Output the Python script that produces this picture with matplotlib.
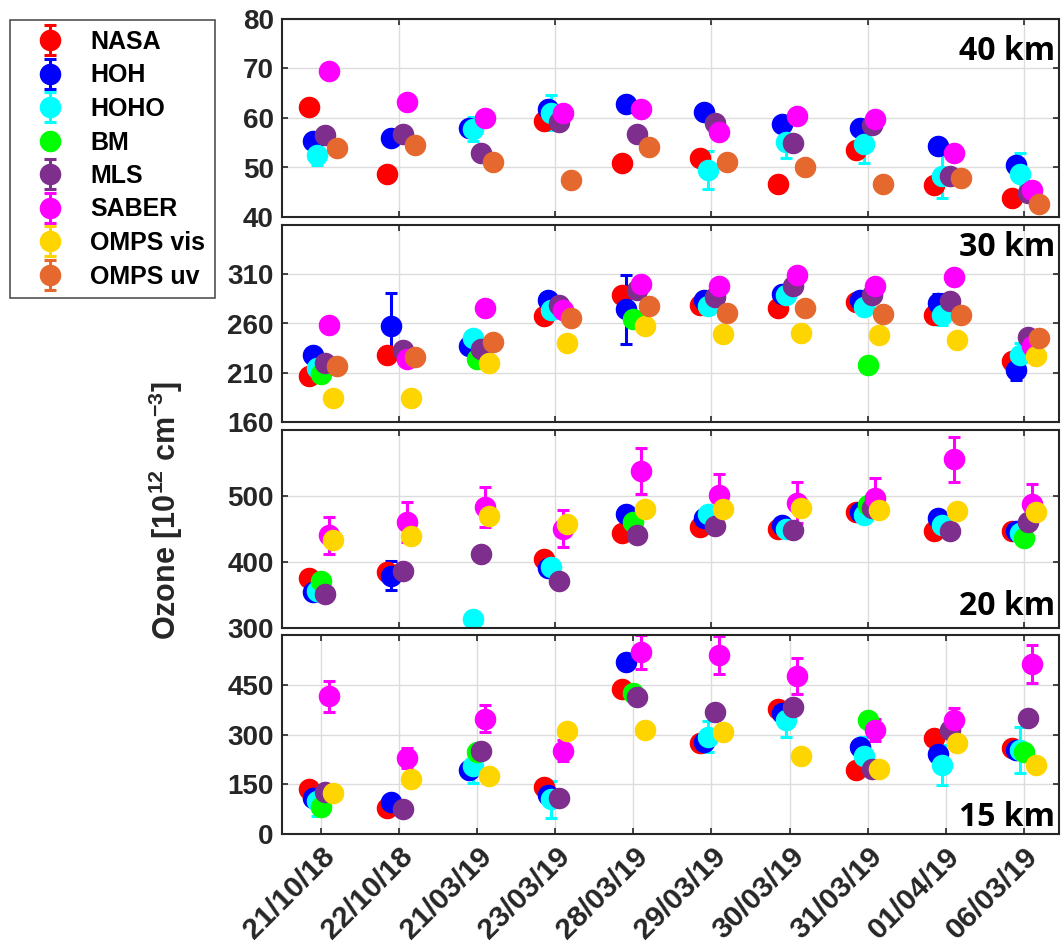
import numpy as np
import matplotlib
matplotlib.use('Agg')
from matplotlib import pyplot as plt
from matplotlib.legend_handler import HandlerErrorbar

nan = np.nan

dates = ['21/10/18', '22/10/18', '21/03/19', '23/03/19', '28/03/19',
         '29/03/19', '30/03/19', '31/03/19', '01/04/19', '06/03/19']
instruments = ['NASA', 'HOH', 'HOHO', 'BM', 'MLS', 'SABER', 'OMPS vis', 'OMPS uv']
colors = ['#FF0000', '#0000FF', '#00FFFF', '#00FF00', '#7E2F8E', '#FF00FF', '#FFD500', '#E5692F']
none = [nan] * 10

# 40 km
nasa_40 = [62.2, 48.7, nan, 59.3, 50.9, 52.0, 46.6, 53.6, 46.4, 43.8]
hoh_40 = [55.3, 56.0, 58.0, 61.8, 62.8, 61.3, 58.7, 57.9, 54.3, 50.6]
hoho_40 = [52.5, nan, 57.8, 61.1, nan, 49.5, 55.2, 54.8, 48.2, 48.7]
hoho_40_err = [2.0, nan, 2.5, 3.6, nan, 3.8, 3.2, 3.9, 4.4, 4.2]
mls_40 = [56.6, 56.8, 53.0, 59.1, 56.8, 59.0, 55.0, 58.5, 48.2, 44.9]
saber_40 = [69.5, 63.2, 60.1, 61.1, 61.8, 57.2, 60.5, 59.8, 53.0, 45.4]
ompsuv_40 = [54.0, 54.5, 51.2, 47.5, 54.1, 51.1, 50.2, 46.6, 47.8, 42.7]

# 30 km
nasa_30 = [207.2, 227.7, nan, 267.3, 288.7, 278.8, 275.5, 282.1, 268.9, 221.7]
hoh_30 = [227.7, 257.4, 237.6, 283.8, 274.5, 283.8, 290.4, 283.8, 280.5, 212.8]
hoh_30_err = [6, 33.7, 3, 6, 35, 5, 5, 5, 9, 10]
hoho_30 = [214.5, nan, 244.8, 273.9, nan, 277.8, 288.7, 276.5, 268.3, 227.7]
hoho_30_err = [5, nan, 3, 6, nan, 8, 5, 8, 10, 12]
bm_30 = [208.5, nan, 223.7, nan, 264.6, nan, nan, 217.8, nan, nan]
mls_30 = [219.4, 232.6, 234.3, 278.8, 294.3, 287.0, 297.6, 288.7, 282.8, 245.8]
saber_30 = [258.0, 224.4, 275.5, 273.2, 300.3, 297.6, 309.2, 297.6, 306.9, 237.6]
ompsvis_30 = [184.8, 184.8, 219.4, 240.2, 257.4, 249.8, 250.8, 248.1, 243.5, 227.0]
ompsuv_30 = [216.8, 226.0, 241.5, 265.6, 277.8, 270.6, 275.5, 269.6, 268.9, 245.1]

# 20 km
nasa_20 = [375.6, 384.1, nan, 404.0, 443.8, 453.7, 449.8, 475.1, 447.3, 446.3]
hoh_20 = [354.2, 379.1, nan, 391.5, 472.1, 467.2, 456.2, 476.1, 466.2, 447.3]
hoh_20_err = [nan, 22, nan, nan, 8, nan, nan, nan, nan, nan]
hoho_20 = [356.7, nan, 312.9, 392.5, nan, 472.1, 450.2, 471.1, 456.2, 443.8]
bm_20 = [371.6, nan, nan, nan, 460.2, nan, nan, 487.0, nan, 436.3]
mls_20 = [351.7, 386.6, 412.4, 370.6, 441.3, 455.2, 448.8, 481.1, 446.3, 461.2]
saber_20 = [440.3, 460.2, 483.6, 450.2, 538.3, 501.0, 490.0, 497.0, 555.7, 488.6]
saber_20_err = [28, 30, 30, 28, 35, 33, 31, 31, 34, 30]
ompsvis_20 = [432.8, 438.8, 470.1, 457.7, 480.1, 480.1, 482.1, 478.6, 477.1, 475.1]

# 15 km
nasa_15 = [134.7, 78.2, nan, 141.6, 436.6, 273.3, 377.2, 194.0, 288.1, 258.4]
hoh_15 = [110.0, 97.0, 194.0, 116.9, 518.8, 278.2, 364.4, 261.4, 240.6, 253.5]
hoho_15 = [100.0, nan, 204.0, 105.0, nan, 293.0, 342.6, 235.6, 208.9, 253.5]
hoho_15_err = [47, nan, 50, 56, nan, 47, 50, 57, 60, 69]
bm_15 = [80.0, nan, 248.5, nan, 423.8, nan, nan, 344.5, nan, 248.5]
mls_15 = [126.8, 75.3, 251.5, 110.0, 411.9, 367.3, 384.2, 196.0, 312.9, 350.5]
saber_15 = [414.8, 228.7, 347.5, 251.5, 548.5, 540.6, 476.2, 312.9, 342.6, 512.9]
saber_15_err = [46, 30, 40, 32, 50, 57, 53, 33, 36, 58]
ompsvis_15 = [122.8, 164.4, 174.3, 310.9, 314.8, 308.0, 235.6, 196.0, 273.3, 208.9]

no_err = [nan] * 10
panels = [
    ('40 km', (40, 80), [40, 50, 60, 70, 80], 0.835,
     [nasa_40, hoh_40, hoho_40, none, mls_40, saber_40, none, ompsuv_40],
     [no_err, no_err, hoho_40_err, None, no_err, no_err, no_err, no_err]),
    ('30 km', (160, 360), [160, 210, 260, 310], 0.885,
     [nasa_30, hoh_30, hoho_30, bm_30, mls_30, saber_30, ompsvis_30, ompsuv_30],
     [no_err, hoh_30_err, hoho_30_err, None, no_err, no_err, no_err, no_err]),
    ('20 km', (300, 600), [300, 400, 500], 0.11,
     [nasa_20, hoh_20, hoho_20, bm_20, mls_20, saber_20, ompsvis_20, none],
     [no_err, hoh_20_err, no_err, None, no_err, saber_20_err, no_err, no_err]),
    ('15 km', (0, 600), [0, 150, 300, 450], 0.085,
     [nasa_15, hoh_15, hoho_15, bm_15, mls_15, saber_15, ompsvis_15, none],
     [no_err, no_err, hoho_15_err, None, no_err, saber_15_err, no_err, no_err]),
]

plt.rcParams['font.family'] = ['Liberation Sans', 'DejaVu Sans']
plt.rcParams['font.weight'] = 'bold'
plt.rcParams['mathtext.fontset'] = 'custom'
plt.rcParams['mathtext.bf'] = 'Liberation Sans:bold'
plt.rcParams['mathtext.rm'] = 'Liberation Sans:bold'
plt.rcParams['mathtext.default'] = 'bf'

fig = plt.figure(figsize=(10.62, 9.47), dpi=100)
x = np.arange(1, 11)
offsets = (np.arange(8) - 3) * 0.05
dark = '#262626'

# panel boxes in pixels (top, bottom)
boxes = [(19, 217), (225, 422), (430, 628), (635, 834)]
handles = []
for (label, ylim, yticks, ty, vals, errs), (top, bot) in zip(panels, boxes):
    ax = fig.add_axes([282 / 1062, 1 - bot / 947, 777 / 1062, (bot - top) / 947])
    hs = []
    for k in range(8):
        h = ax.errorbar(x + offsets[k], vals[k], yerr=errs[k], fmt='o', color=colors[k],
                        markersize=14.5, elinewidth=2.2, capsize=4.5, capthick=2.2,
                        label=instruments[k])
        hs.append(h)
    handles = hs
    ax.set_xlim(0.5, 10.45)
    ax.set_ylim(*ylim)
    ax.set_yticks(yticks)
    if label == '15 km':
        ax.set_xticks(x)
        ax.set_xticklabels(dates, rotation=45, ha='right', va='top', rotation_mode='anchor')
    else:
        ax.set_xticks(x[1::2])
        ax.set_xticklabels([])
    ax.grid(True, color='#dcdcdc', linewidth=1)
    ax.set_axisbelow(True)
    ax.tick_params(direction='in', top=True, right=True, length=4.5, width=1.2,
                   labelsize=20, colors=dark, labelcolor=dark, pad=6)
    ax.tick_params(axis='x', labelsize=21.5)
    for s in ax.spines.values():
        s.set_color(dark)
        s.set_linewidth(1.5)
    ax.text(0.995, ty, label, transform=ax.transAxes, ha='right', va='center',
            fontsize=23, fontweight='bold', family='Open Sans', color='black')

fig.text(166 / 1062, 1 - 510 / 947, r'Ozone [10$^{12}$ cm$^{-3}$]', rotation=90,
         ha='center', va='center', fontsize=22, fontweight='bold', color=dark)

leg = fig.legend(handles, instruments, loc='upper left', bbox_to_anchor=(10 / 1062, 1 - 20 / 947),
                 borderaxespad=0, fontsize=18, frameon=True, fancybox=False,
                 edgecolor=dark, labelspacing=0.38, handlelength=2.4, handletextpad=0.4,
                 borderpad=0.4,
                 handler_map={type(handles[0]): HandlerErrorbar(yerr_size=0.6)})
leg.get_frame().set_linewidth(1.2)
for t in leg.get_texts():
    t.set_color('black')

fig.savefig('out.png', dpi=100)
